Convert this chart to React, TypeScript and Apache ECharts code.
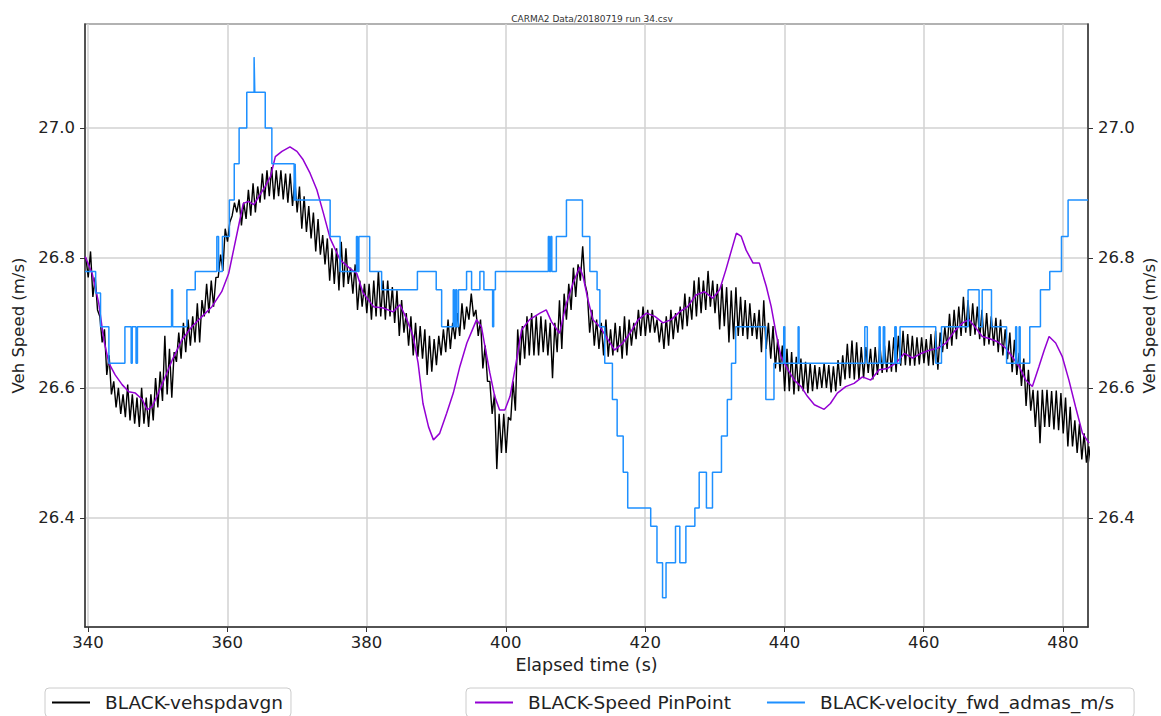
import React, { useEffect, useRef } from "react";
import * as echarts from "echarts";

// Run title and labels
const chartTitle = "CARMA2 Data/20180719 run 34.csv";
const xName = "Elapsed time (s)";
const yName = "Veh Speed (m/s)";
const legendBlack = "BLACK-vehspdavgn";
const legendPurple = "BLACK-Speed PinPoint";
const legendBlue = "BLACK-velocity_fwd_admas_m/s";

// Axis extents and tick values
const xMin = 339.57;
const xMax = 483.59;
const yMin = 26.232;
const yMax = 27.16;
const xTicks = [340, 360, 380, 400, 420, 440, 460, 480];
const yTicks = [26.4, 26.6, 26.8, 27.0];

// vehspdavgn: sampled every 1/3 s from 339.7 s
const blackStart = 339.7;
const blackStep = 1 / 3;
const blackSpeed = [
  26.80, 26.77, 26.81, 26.74, 26.77, 26.72, 26.71, 26.67, 26.69, 26.62, 26.65, 26.59,
  26.61, 26.57, 26.60, 26.56, 26.59, 26.555, 26.605, 26.55, 26.59, 26.545, 26.585, 26.54,
  26.60, 26.545, 26.585, 26.54, 26.59, 26.55, 26.615, 26.57, 26.625, 26.58, 26.68, 26.59,
  26.66, 26.585, 26.655, 26.64, 26.685, 26.645, 26.70, 26.655, 26.705, 26.665, 26.71, 26.67,
  26.73, 26.67, 26.735, 26.71, 26.76, 26.715, 26.765, 26.725, 26.77, 26.77, 26.805, 26.78,
  26.845, 26.825, 26.855, 26.865, 26.885, 26.87, 26.89, 26.85, 26.885, 26.86, 26.905, 26.865,
  26.915, 26.87, 26.91, 26.885, 26.93, 26.89, 26.935, 26.895, 26.94, 26.89, 26.935, 26.895,
  26.935, 26.89, 26.93, 26.885, 26.93, 26.88, 26.92, 26.87, 26.91, 26.845, 26.895, 26.84,
  26.88, 26.83, 26.87, 26.81, 26.86, 26.805, 26.835, 26.79, 26.83, 26.765, 26.815, 26.76,
  26.815, 26.75, 26.825, 26.755, 26.815, 26.76, 26.785, 26.745, 26.79, 26.72, 26.765, 26.725,
  26.76, 26.715, 26.76, 26.705, 26.765, 26.71, 26.78, 26.71, 26.765, 26.705, 26.765, 26.71,
  26.755, 26.70, 26.75, 26.68, 26.735, 26.685, 26.715, 26.665, 26.71, 26.65, 26.70, 26.648,
  26.695, 26.645, 26.69, 26.62, 26.68, 26.625, 26.675, 26.635, 26.68, 26.65, 26.69, 26.655,
  26.705, 26.66, 26.70, 26.675, 26.715, 26.68, 26.73, 26.69, 26.725, 26.705, 26.745, 26.71,
  26.72, 26.68, 26.705, 26.63, 26.665, 26.61, 26.61, 26.56, 26.59, 26.475, 26.56, 26.50,
  26.56, 26.50, 26.555, 26.55, 26.61, 26.565, 26.69, 26.635, 26.695, 26.645, 26.71, 26.65,
  26.715, 26.65, 26.71, 26.65, 26.71, 26.655, 26.705, 26.65, 26.70, 26.615, 26.70, 26.655,
  26.735, 26.66, 26.745, 26.705, 26.76, 26.72, 26.785, 26.74, 26.79, 26.765, 26.818, 26.76,
  26.745, 26.685, 26.72, 26.665, 26.705, 26.66, 26.70, 26.65, 26.705, 26.648, 26.69, 26.65,
  26.70, 26.655, 26.695, 26.645, 26.71, 26.65, 26.705, 26.665, 26.70, 26.675, 26.72, 26.68,
  26.725, 26.68, 26.72, 26.685, 26.72, 26.685, 26.705, 26.67, 26.70, 26.66, 26.71, 26.665,
  26.72, 26.675, 26.715, 26.685, 26.725, 26.69, 26.745, 26.695, 26.74, 26.705, 26.765, 26.71,
  26.77, 26.715, 26.765, 26.72, 26.78, 26.725, 26.765, 26.715, 26.76, 26.69, 26.76, 26.695,
  26.755, 26.67, 26.75, 26.675, 26.755, 26.68, 26.74, 26.68, 26.735, 26.675, 26.73, 26.68,
  26.715, 26.675, 26.72, 26.655, 26.735, 26.66, 26.70, 26.645, 26.695, 26.63, 26.675, 26.625,
  26.665, 26.595, 26.66, 26.595, 26.655, 26.59, 26.648, 26.595, 26.645, 26.595, 26.64, 26.592,
  26.638, 26.595, 26.635, 26.598, 26.632, 26.60, 26.638, 26.60, 26.635, 26.593, 26.633, 26.595,
  26.643, 26.603, 26.65, 26.613, 26.668, 26.615, 26.673, 26.613, 26.67, 26.613, 26.663, 26.615,
  26.663, 26.623, 26.66, 26.613, 26.663, 26.62, 26.668, 26.623, 26.665, 26.624, 26.673, 26.625,
  26.678, 26.624, 26.68, 26.634, 26.688, 26.635, 26.683, 26.634, 26.68, 26.634, 26.678, 26.636,
  26.678, 26.638, 26.675, 26.634, 26.683, 26.635, 26.688, 26.628, 26.685, 26.655, 26.694, 26.66,
  26.714, 26.665, 26.72, 26.675, 26.725, 26.68, 26.74, 26.685, 26.735, 26.68, 26.73, 26.682,
  26.725, 26.675, 26.72, 26.665, 26.715, 26.667, 26.71, 26.665, 26.708, 26.655, 26.705, 26.65,
  26.69, 26.644, 26.685, 26.624, 26.674, 26.62, 26.654, 26.603, 26.645, 26.572, 26.628, 26.565,
  26.597, 26.54, 26.596, 26.515, 26.597, 26.54, 26.597, 26.54, 26.595, 26.536, 26.596, 26.535,
  26.592, 26.53, 26.585, 26.51, 26.571, 26.51, 26.55, 26.50, 26.545, 26.49, 26.53, 26.485,
  26.51, 26.48,
];

// Speed PinPoint: [time s, speed m/s]
const purpleSpeed: [number, number][] = [
  [339.6, 26.802], [340.6, 26.776], [341.55, 26.73], [342.27, 26.674], [343.0, 26.638],
  [343.9, 26.62], [344.9, 26.605], [345.85, 26.594], [346.8, 26.592], [347.8, 26.582],
  [348.5, 26.566], [349.2, 26.571], [349.9, 26.587], [350.9, 26.612], [352.1, 26.643],
  [353.5, 26.674], [354.9, 26.694], [356.4, 26.71], [357.8, 26.725], [359.2, 26.748],
  [360.2, 26.776], [360.9, 26.812], [361.6, 26.848], [362.3, 26.884], [363.05, 26.887],
  [363.8, 26.882], [364.5, 26.894], [365.45, 26.91], [366.2, 26.925], [366.9, 26.956],
  [367.85, 26.964], [369.0, 26.971], [370.0, 26.964], [370.9, 26.951], [371.9, 26.93],
  [372.86, 26.905], [373.8, 26.869], [374.77, 26.83], [376.2, 26.797], [377.6, 26.784],
  [378.6, 26.776], [379.5, 26.746], [381.0, 26.725], [382.4, 26.723], [383.8, 26.717],
  [384.8, 26.728], [385.8, 26.705], [386.7, 26.679], [387.4, 26.638], [388.1, 26.576],
  [388.9, 26.54], [389.6, 26.52], [390.5, 26.53], [391.5, 26.561], [392.45, 26.592],
  [393.4, 26.633], [394.4, 26.669], [395.1, 26.687], [395.8, 26.705], [396.5, 26.694],
  [397.0, 26.664], [397.7, 26.623], [398.4, 26.587], [399.1, 26.566], [399.86, 26.566],
  [400.6, 26.587], [401.3, 26.628], [402.25, 26.689], [403.4, 26.705], [404.9, 26.715],
  [405.8, 26.72], [406.55, 26.702], [407.7, 26.684], [408.7, 26.73], [409.65, 26.761],
  [410.6, 26.786], [411.1, 26.771], [411.8, 26.735], [412.5, 26.705], [413.5, 26.694],
  [414.7, 26.674], [415.6, 26.658], [416.8, 26.669], [417.8, 26.684], [419.0, 26.705],
  [420.2, 26.715], [421.4, 26.71], [422.55, 26.7], [423.75, 26.705], [424.95, 26.717],
  [426.1, 26.725], [427.3, 26.743], [428.5, 26.748], [429.7, 26.738], [430.7, 26.751],
  [431.6, 26.782], [432.4, 26.812], [433.1, 26.838], [433.8, 26.833], [434.5, 26.812],
  [435.5, 26.792], [436.4, 26.792], [437.4, 26.756], [438.1, 26.725], [438.8, 26.684],
  [439.5, 26.648], [440.5, 26.628], [441.4, 26.612], [442.4, 26.602], [443.3, 26.587],
  [444.3, 26.574], [445.7, 26.567], [446.6, 26.576], [447.6, 26.592], [448.8, 26.602],
  [450.0, 26.607], [451.2, 26.617], [452.4, 26.612], [453.6, 26.628], [454.8, 26.63],
  [456.0, 26.638], [457.2, 26.653], [458.4, 26.646], [459.6, 26.653], [460.8, 26.658],
  [462.0, 26.661], [463.2, 26.669], [464.4, 26.687], [465.6, 26.7], [466.5, 26.705],
  [467.5, 26.692], [468.4, 26.679], [469.4, 26.676], [470.6, 26.671], [471.8, 26.661],
  [472.7, 26.648], [473.7, 26.633], [474.65, 26.612], [475.6, 26.602], [476.55, 26.633],
  [477.3, 26.658], [478.0, 26.679], [478.95, 26.669], [479.9, 26.648], [480.85, 26.612],
  [481.8, 26.571], [482.8, 26.53], [483.75, 26.515],
];

// velocity_fwd_admas: [time where the level starts, level m/s]
const blueSpeed: [number, number][] = [
  [339.57, 26.779], [341.1, 26.746], [341.8, 26.694], [343.0, 26.638], [345.3, 26.694],
  [346.2, 26.638], [346.35, 26.694], [346.9, 26.638], [347.1, 26.694], [352.0, 26.751],
  [352.15, 26.694], [354.2, 26.751], [355.4, 26.779], [358.5, 26.833], [358.75, 26.779],
  [359.3, 26.833], [360.3, 26.889], [361.0, 26.945], [361.7, 27.0], [362.8, 27.055],
  [363.85, 27.109], [363.95, 27.055], [365.45, 27.0], [366.4, 26.945], [369.6, 26.889],
  [369.75, 26.945], [369.85, 26.889], [374.77, 26.833], [376.2, 26.779], [378.55, 26.833],
  [378.7, 26.779], [378.9, 26.833], [380.45, 26.779], [382.16, 26.751], [387.3, 26.779],
  [390.0, 26.751], [390.78, 26.694], [392.45, 26.751], [392.6, 26.694], [392.8, 26.751],
  [392.95, 26.694], [393.2, 26.751], [394.36, 26.779], [395.08, 26.751], [396.27, 26.779],
  [396.85, 26.751], [398.1, 26.694], [398.25, 26.751], [398.5, 26.779], [406.1, 26.833],
  [406.25, 26.779], [406.45, 26.833], [406.6, 26.779], [407.25, 26.833], [408.7, 26.889],
  [411.0, 26.833], [412.06, 26.779], [413.1, 26.751], [413.5, 26.694], [414.2, 26.638],
  [415.3, 26.582], [415.98, 26.526], [416.85, 26.47], [417.5, 26.415], [420.8, 26.387],
  [421.7, 26.331], [422.5, 26.277], [423.0, 26.331], [424.36, 26.387], [424.98, 26.331],
  [425.85, 26.387], [427.14, 26.415], [427.76, 26.47], [428.8, 26.415], [429.67, 26.47],
  [430.96, 26.526], [431.8, 26.582], [432.4, 26.638], [433.0, 26.694], [437.33, 26.582],
  [438.5, 26.638], [439.9, 26.694], [440.05, 26.638], [441.97, 26.694], [442.1, 26.638],
  [451.54, 26.694], [451.9, 26.638], [453.6, 26.694], [453.75, 26.638], [454.2, 26.694],
  [454.4, 26.638], [455.85, 26.694], [456.05, 26.638], [456.6, 26.694], [461.73, 26.638],
  [462.55, 26.694], [466.37, 26.751], [467.95, 26.694], [468.4, 26.751], [469.73, 26.694],
  [471.9, 26.638], [473.2, 26.694], [473.35, 26.638], [473.7, 26.694], [473.85, 26.638],
  [475.23, 26.694], [476.76, 26.751], [478.1, 26.779], [479.78, 26.833], [480.73, 26.889],
  [483.59, 26.889],
];

const FONT = "DejaVu Sans";
const TEXT_COLOR = "#222";
const GRID_COLOR = "#d2d2d2";
const SPINE_COLOR = "#333";

export default function App() {
  const ref = useRef<HTMLDivElement>(null);

  useEffect(() => {
    if (!ref.current) return;
    const chart = echarts.init(ref.current, undefined, { renderer: "svg" });

    const blackData = blackSpeed.map((v, i) => [blackStart + i * blackStep, v]);

    const yAxisBase = (position: "left" | "right") => ({
      type: "value",
      position,
      min: yMin,
      max: yMax,
      name: yName,
      nameLocation: "middle",
      nameRotate: 90,
      nameGap: position === "left" ? 58 : 53,
      nameMoveOverlap: false,
      nameTextStyle: { fontFamily: FONT, fontSize: 16.5, color: TEXT_COLOR },
      axisLine: { show: true, lineStyle: { color: SPINE_COLOR, width: 1.5 } },
      axisTick: { show: true, length: 5, customValues: yTicks, lineStyle: { color: SPINE_COLOR } },
      axisLabel: {
        customValues: yTicks,
        fontFamily: FONT,
        fontSize: 16.5,
        color: TEXT_COLOR,
        margin: 10,
        formatter: (v: number) => v.toFixed(1),
      },
      splitLine: {
        show: position === "left",
        lineStyle: { color: GRID_COLOR, width: 1.5 },
      },
    });

    const legendBox = {
      top: 688,
      icon: "rect",
      itemWidth: 38,
      itemHeight: 2,
      borderColor: "#cccccc",
      borderWidth: 1,
      borderRadius: 4,
      backgroundColor: "rgba(255,255,255,0.8)",
      textStyle: { fontFamily: FONT, fontSize: 18.5, color: TEXT_COLOR, padding: [0, 0, 0, 10] },
    };

    chart.setOption({
      animation: false,
      backgroundColor: "#ffffff",
      textStyle: { fontFamily: FONT },
      title: {
        text: chartTitle,
        left: 587,
        top: 9,
        textAlign: "center",
        textStyle: { fontFamily: FONT, fontSize: 9, fontWeight: "normal", color: "#333" },
      },
      grid: {
        left: 85,
        right: 73,
        top: 24,
        bottom: 89,
        containLabel: false,
        outerBoundsMode: "none",
        show: true,
        borderColor: "#999",
        borderWidth: 1.5,
      },
      legend: [
        {
          ...legendBox,
          data: [legendBlack],
          left: 45,
          padding: [5, 8, 5, 7],
        },
        {
          ...legendBox,
          data: [legendPurple, legendBlue],
          left: 466,
          itemGap: 36,
          padding: [5, 20, 5, 9],
        },
      ],
      xAxis: {
        type: "value",
        min: xMin,
        max: xMax,
        name: xName,
        nameLocation: "middle",
        nameGap: 24,
        nameTextStyle: { fontFamily: FONT, fontSize: 17.5, color: TEXT_COLOR },
        axisLine: { show: true, onZero: false, lineStyle: { color: SPINE_COLOR, width: 1.5 } },
        axisTick: { show: true, length: 5, customValues: xTicks, lineStyle: { color: SPINE_COLOR } },
        axisLabel: {
          customValues: xTicks,
          fontFamily: FONT,
          fontSize: 16.5,
          color: TEXT_COLOR,
          margin: 7,
        },
        splitLine: { show: true, lineStyle: { color: GRID_COLOR, width: 1.5 } },
      },
      yAxis: [yAxisBase("left"), yAxisBase("right")],
      series: [
        {
          name: legendBlack,
          type: "line",
          data: blackData,
          showSymbol: false,
          symbol: "none",
          color: "#000000",
          lineStyle: { color: "#000000", width: 1.4 },
          z: 2,
        },
        {
          name: legendPurple,
          type: "line",
          data: purpleSpeed,
          showSymbol: false,
          symbol: "none",
          color: "#9400d3",
          lineStyle: { color: "#9400d3", width: 1.5 },
          z: 3,
        },
        {
          name: legendBlue,
          type: "line",
          step: "end",
          data: blueSpeed,
          showSymbol: false,
          symbol: "none",
          color: "#1e90ff",
          lineStyle: { color: "#1e90ff", width: 1.5 },
          z: 4,
        },
      ],
    });

    return () => chart.dispose();
  }, []);

  return (
    <div
      ref={ref}
      style={{ position: "fixed", left: 0, top: 0, width: 1161, height: 716, background: "#fff" }}
    />
  );
}
